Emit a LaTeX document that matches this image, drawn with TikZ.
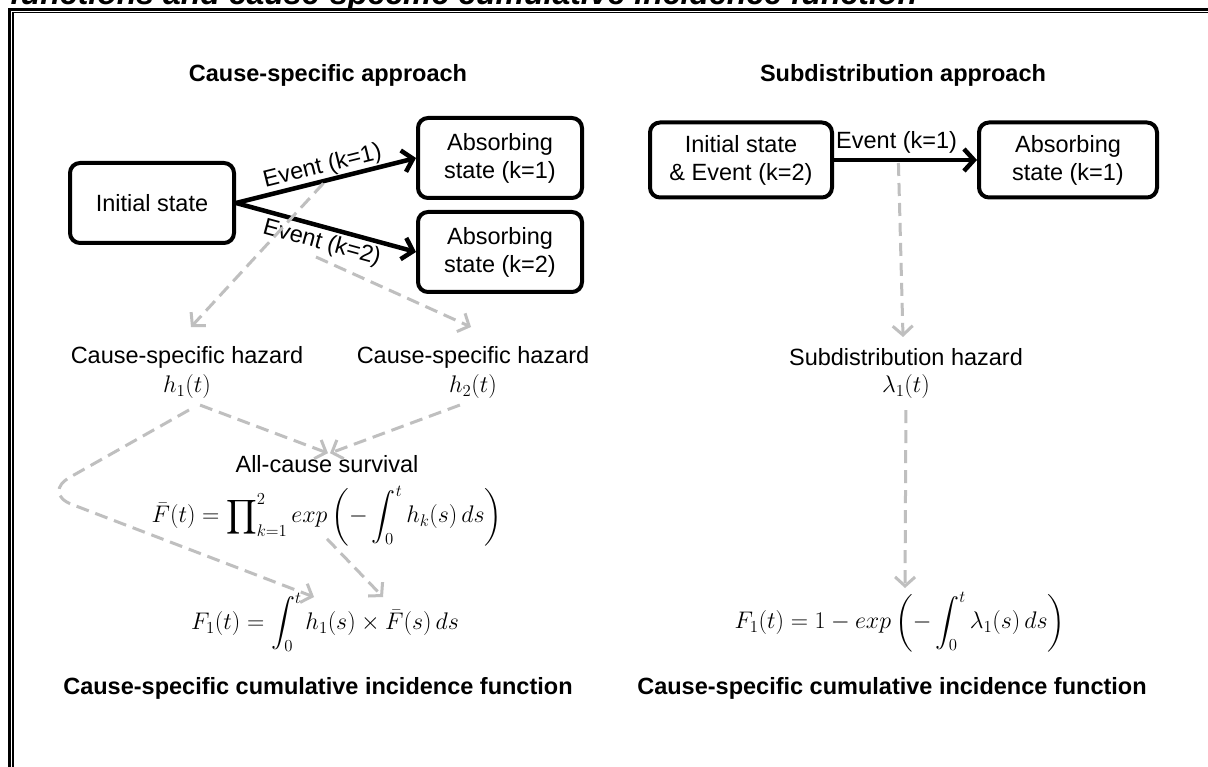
\RequirePackage{fix-cm}
\documentclass[tikz,border=0pt]{standalone}
\usepackage{exscale}
\usepackage[no-math]{fontspec}
\setmainfont{Liberation Sans}
\DeclareFontShape{OMX}{cmex}{m}{n}{<->cmex10}{}
\usetikzlibrary{arrows.meta}
\definecolor{lgray}{RGB}{191,191,191}
\tikzset{
  lbl/.style={font=\fontsize{23.5}{27}\selectfont, inner sep=2pt},
  hdr/.style={font=\fontsize{23.5}{27}\selectfont\bfseries, inner sep=2pt},
  mth/.style={font=\fontsize{24}{28}\selectfont, inner sep=1pt},
  stt/.style={draw, line width=4pt, rounded corners=10pt, align=center,
              font=\fontsize{23.5}{28}\selectfont, inner sep=2pt},
  flow/.style={line width=4.5pt, -{Straight Barb[length=10pt,width=22pt]}},
  gdash/.style={draw=lgray, line width=3pt, dash pattern=on 13pt off 7pt,
                -{Straight Barb[length=9pt,width=20pt]}},
}
\begin{document}
\begin{tikzpicture}[x=1pt,y=-1pt]
\clip (0,0) rectangle (1208,767);
\fill[white] (0,0) rectangle (1208,767);
% frame
\draw[line width=3pt] (9.5,790) -- (9.5,9.5) -- (1230,9.5);
\draw[line width=1.4pt] (12.8,790) -- (12.8,12.8) -- (1230,12.8);
% cut title
\node[anchor=base west, inner sep=0pt, font=\fontsize{32}{36}\selectfont\bfseries\itshape] (ttl) at (10,4.5)
  {functions and cause-specific cumulative incidence function};

% ---------- left panel ----------
\node[hdr] (lt) at (328,75) {Cause-specific approach};
\node[stt, minimum width=164pt, minimum height=80pt] (init) at (152,203) {Initial state};
\node[stt, minimum width=164pt, minimum height=80pt] (abs1) at (500,158) {Absorbing\\state (k=1)};
\node[stt, minimum width=164pt, minimum height=80pt] (abs2) at (500,252) {Absorbing\\state (k=2)};
\draw[flow] (init.east) -- node[lbl, sloped, above, inner sep=1pt] (ev1) {Event (k=1)} coordinate[pos=0.5] (e1m) (abs1.west);
\draw[flow] (init.east) -- node[lbl, sloped, below, inner sep=3pt] (ev2) {Event (k=2)} (abs2.west);

\node[lbl] (haz1) at (187,357) {Cause-specific hazard};
\node[mth] (h1) at (187,387) {$h_1(t)$};
\node[lbl] (haz2) at (473,357) {Cause-specific hazard};
\node[mth] (h2) at (473,387) {$h_2(t)$};

\coordinate (ta) at (191,327);
\coordinate (b0) at (316,257);
\coordinate (tb) at (471,327);
\draw[gdash, shorten <=4pt] (e1m) -- (ta);
\draw[gdash] (b0) -- (tb);

\node[lbl] (acs) at (327,464) {All-cause survival};
\node[mth] (fbar) at (327,516) {$\displaystyle \bar{F}(t)=\prod\nolimits_{k=1}^{2} exp\left(-\int_0^t h_k(s)\,ds\right)$};
\node[mth] (f1l) at (325,622) {$\displaystyle F_1(t)=\int_0^t h_1(s)\times\bar{F}(s)\,ds$};

\coordinate (c1) at (314,597);
\coordinate (c2) at (383,597);
\coordinate (hs) at (189,410);
\draw[gdash, shorten <=14pt] (h1.south) -- ([xshift=1pt]acs.north);
\draw[gdash, shorten <=14pt] (h2.south) -- ([xshift=3pt]acs.north);
\draw[gdash, rounded corners=32pt] (hs) -- (42,493) -- (c1);
\draw[gdash] ([yshift=8pt]fbar.south) -- (c2);

\node[hdr] (bl) at (318,688) {Cause-specific cumulative incidence function};

% ---------- right panel ----------
\node[hdr] (rt) at (903,75) {Subdistribution approach};
\node[stt, minimum width=182pt, minimum height=75pt] (init2) at (741,160) {Initial state\\\& Event (k=2)};
\node[stt, minimum width=178pt, minimum height=75pt] (abs3) at (1068,160) {Absorbing\\state (k=1)};
\draw[flow] (init2.east) -- coordinate[pos=0.45] (e3m) (abs3.west);
\node[lbl, anchor=west, inner sep=0pt] (ev3) at (836,142) {Event (k=1)};

\node[lbl] (sh) at (906,357) {Subdistribution hazard};
\node[mth] (lam) at (906,387) {$\lambda_1(t)$};
\coordinate (tc) at (903,337);
\draw[gdash, shorten <=3pt] (e3m) -- (tc);

\node[mth] (f1r) at (900,622) {$\displaystyle F_1(t)=1-exp\left(-\int_0^t \lambda_1(s)\,ds\right)$};
\coordinate (td) at (905,588);
\draw[gdash, shorten <=10pt] (lam.south) -- (td);

\node[hdr] (br) at (892,688) {Cause-specific cumulative incidence function};
\end{tikzpicture}
\end{document}
